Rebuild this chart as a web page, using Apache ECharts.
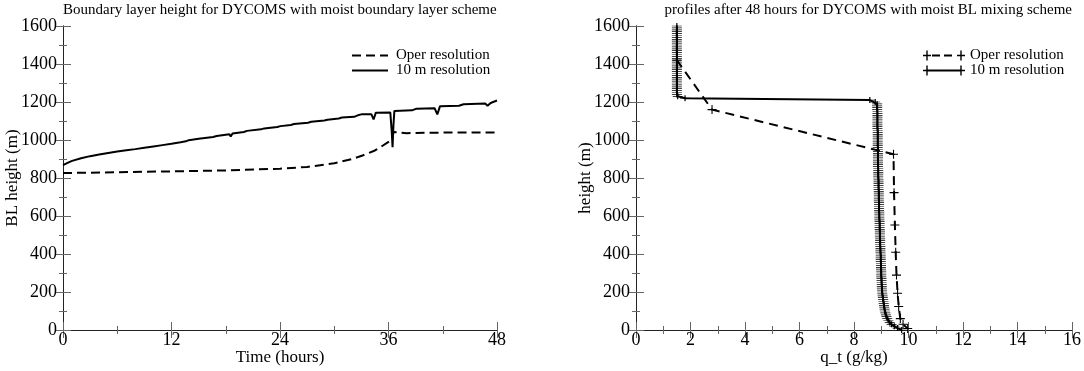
<!DOCTYPE html>
<html>
<head>
<meta charset="utf-8">
<script src="https://cdn.jsdelivr.net/npm/echarts@6/dist/echarts.min.js"></script>
<style>
  html, body { margin: 0; padding: 0; background: #fff; }
  #chart { width: 1084px; height: 371px; }
</style>
</head>
<body>
<div id="chart"></div>
<script>
// left panel: boundary layer height vs time
const blTitle = "Boundary layer height for DYCOMS with moist boundary layer scheme";
const operTime = [0, 6, 12, 18, 24, 27, 30, 32, 33.2, 34.5, 35.1, 36, 36.4, 36.55, 37, 38, 40, 44, 48];
const operBL = [826, 830, 835, 840, 849, 858, 878, 900, 920, 945, 962, 990, 1010, 1042, 1040, 1036, 1038, 1040, 1040];
const tenTime = [0, 0.5, 1, 2, 3, 4, 5, 6, 7, 8, 9, 10, 11, 12, 13, 13.6, 13.75, 13.9, 15, 16.6, 16.8, 17,
  18.4, 18.55, 18.75, 20, 20.15, 20.35, 21.9, 22.05, 22.25, 23.7, 23.85, 24.05, 25.2, 25.35, 25.55,
  27.1, 27.25, 27.45, 28.9, 29.05, 29.25, 30.5, 30.65, 30.85, 32.2, 32.4, 32.6, 33, 34.1, 34.35, 34.6,
  36.2, 36.35, 36.45, 36.55, 36.65, 38.6, 38.8, 39.1, 41.1, 41.4, 41.7, 43.8, 44, 44.3, 46.7, 46.95, 47.3, 48];
const tenBL = [868, 880, 890, 904, 915, 924, 932, 939, 946, 952, 959, 966, 973, 980, 988, 993, 984, 999, 1006, 1016, 1009, 1021,
  1030, 1019, 1034, 1042, 1033, 1048, 1056, 1047, 1061, 1068, 1061, 1073, 1079, 1071, 1084,
  1091, 1082, 1096, 1103, 1094, 1107, 1113, 1104, 1118, 1122, 1112, 1130, 1135, 1136, 1108, 1144,
  1145, 1050, 962, 1080, 1153, 1156, 1146, 1165, 1167, 1135, 1178, 1180, 1172, 1188, 1192, 1180, 1195, 1208];

// right panel: q_t profiles after 48 hours
const qtTitle = "profiles after 48 hours for DYCOMS with moist BL mixing scheme";
const operQt = [1.50, 1.50, 2.79, 9.45, 9.47, 9.50, 9.53, 9.56, 9.60, 9.64, 9.70, 9.80, 9.97];
const operHeight = [1660, 1420, 1160, 925, 723, 553, 409, 289, 193, 124, 60, 30, 8];
const tenHeight = [
  0, 10, 20, 30, 40, 50, 60, 70, 80, 90,
  100, 110, 120, 130, 140, 150, 160, 170, 180, 190,
  200, 210, 220, 230, 240, 250, 260, 270, 280, 290,
  300, 310, 320, 330, 340, 350, 360, 370, 380, 390,
  400, 410, 420, 430, 440, 450, 460, 470, 480, 490,
  500, 510, 520, 530, 540, 550, 560, 570, 580, 590,
  600, 610, 620, 630, 640, 650, 660, 670, 680, 690,
  700, 710, 720, 730, 740, 750, 760, 770, 780, 790,
  800, 810, 820, 830, 840, 850, 860, 870, 880, 890,
  900, 910, 920, 930, 940, 950, 960, 970, 980, 990,
  1000, 1010, 1020, 1030, 1040, 1050, 1060, 1070, 1080, 1090,
  1100, 1110, 1120, 1130, 1140, 1150, 1160, 1170, 1180, 1190,
  1200, 1210, 1220, 1230, 1240, 1250, 1260, 1270, 1280, 1290,
  1300, 1310, 1320, 1330, 1340, 1350, 1360, 1370, 1380, 1390,
  1400, 1410, 1420, 1430, 1440, 1450, 1460, 1470, 1480, 1490,
  1500, 1510, 1520, 1530, 1540, 1550, 1560, 1570, 1580, 1590,
  1600];
const tenQt = [
  9.75, 9.60, 9.48, 9.38, 9.31, 9.26, 9.22, 9.19, 9.17, 9.15,
  9.13, 9.12, 9.11, 9.10, 9.09, 9.08, 9.07, 9.06, 9.05, 9.04,
  9.03, 9.03, 9.02, 9.02, 9.02, 9.01, 9.01, 9.01, 9.00, 9.00,
  9.00, 9.00, 8.99, 8.99, 8.99, 8.99, 8.98, 8.98, 8.98, 8.98,
  8.98, 8.97, 8.97, 8.97, 8.97, 8.96, 8.96, 8.96, 8.96, 8.95,
  8.95, 8.95, 8.95, 8.94, 8.94, 8.94, 8.94, 8.94, 8.93, 8.93,
  8.93, 8.93, 8.93, 8.92, 8.92, 8.92, 8.92, 8.92, 8.91, 8.91,
  8.91, 8.91, 8.91, 8.91, 8.90, 8.90, 8.90, 8.90, 8.90, 8.90,
  8.89, 8.89, 8.89, 8.89, 8.89, 8.89, 8.88, 8.88, 8.88, 8.88,
  8.88, 8.88, 8.88, 8.88, 8.88, 8.88, 8.87, 8.87, 8.87, 8.87,
  8.87, 8.87, 8.87, 8.87, 8.87, 8.87, 8.86, 8.86, 8.86, 8.86,
  8.86, 8.86, 8.86, 8.86, 8.86, 8.86, 8.85, 8.85, 8.85, 8.85,
  8.78, 8.58, 1.80, 1.53, 1.50, 1.50, 1.50, 1.50, 1.50, 1.50,
  1.50, 1.50, 1.50, 1.50, 1.50, 1.50, 1.50, 1.50, 1.50, 1.50,
  1.50, 1.50, 1.50, 1.50, 1.50, 1.50, 1.50, 1.50, 1.50, 1.50,
  1.50, 1.50, 1.50, 1.50, 1.50, 1.50, 1.50, 1.50, 1.50, 1.50,
  1.50];

const font = "Liberation Serif";
const plus = "path://M0,4.4H10V5.6H0Z M4.4,0H5.6V10H4.4Z";
// legend samples
const dashIcon = "path://M0,0H9V2H0Z M14,0H23V2H14Z M28,0H36V2H28Z";
const lineIcon = "path://M0,0H36V2H0Z";
const operIcon = "path://M0,4.3H8V5.7H0Z M3.3,0H4.7V10H3.3Z M9,4H17V6H9Z M21,4H29V6H21Z M34,4.3H42V5.7H34Z M37.3,0H38.7V10H37.3Z";
const tenIcon = "path://M0,4.3H8V5.7H0Z M3.3,0H4.7V10H3.3Z M4,4H38V6H4Z M34,4.3H42V5.7H34Z M37.3,0H38.7V10H37.3Z";

const pairs = (xs, ys) => xs.map((x, i) => [x, ys[i]]);

const tickStyle = {
  axisLine: { show: true, lineStyle: { color: "#222", width: 1 } },
  axisTick: { show: true, inside: true, length: 8, lineStyle: { color: "#666" } },
  minorTick: { show: true, splitNumber: 2, length: 4, lineStyle: { color: "#666" } },
  splitLine: { show: false },
  minorSplitLine: { show: false }
};
const labelStyle = { fontFamily: font, fontSize: 18, color: "#000", formatter: v => String(v) };
const nameStyle = { fontFamily: font, fontSize: 17, color: "#000" };

// one frame = bottom/left labelled axes + mirrored top/right tick-only axes
const xAxisPair = (grid, max, interval, name) => {
  const base = Object.assign({ type: "value", gridIndex: grid, min: 0, max: max, interval: interval }, tickStyle);
  return [
    Object.assign({}, base, {
      position: "bottom", name: name, nameLocation: "middle", nameGap: 19, nameMoveOverlap: false,
      nameTextStyle: nameStyle,
      axisLabel: Object.assign({ margin: 1 }, labelStyle)
    }),
    Object.assign({}, base, { position: "top", axisLabel: { show: false } })
  ];
};
const yAxisPair = (grid, name) => {
  const base = Object.assign({ type: "value", gridIndex: grid, min: 0, max: 1600, interval: 200 }, tickStyle);
  return [
    Object.assign({}, base, {
      position: "left", name: name, nameLocation: "middle", nameGap: 42, nameMoveOverlap: false,
      nameTextStyle: nameStyle,
      axisLabel: Object.assign({ margin: 6 }, labelStyle)
    }),
    Object.assign({}, base, { position: "right", axisLabel: { show: false } })
  ];
};

const chart = echarts.init(document.getElementById("chart"));
chart.setOption({
  animation: false,
  backgroundColor: "#fff",
  textStyle: { fontFamily: font, color: "#000" },
  title: [
    { text: blTitle, left: 63, top: 3, padding: 0,
      textStyle: { fontFamily: font, fontSize: 15, fontWeight: "normal", color: "#000" } },
    { text: qtTitle, right: 12, top: 3, padding: 0,
      textStyle: { fontFamily: font, fontSize: 15, fontWeight: "normal", color: "#000" } }
  ],
  legend: [
    {
      left: 352, top: 48, orient: "vertical", itemGap: 0, padding: 0,
      itemWidth: 36, itemHeight: 2,
      textStyle: { fontFamily: font, fontSize: 15, color: "#000", lineHeight: 15, padding: [0, 0, 0, 3] },
      data: [
        { name: "Oper resolution", icon: dashIcon, itemStyle: { color: "#000" } },
        { name: "10 m resolution", icon: lineIcon, itemStyle: { color: "#000" } }
      ]
    },
    {
      left: 923, top: 48, orient: "vertical", itemGap: 0, padding: 0,
      itemWidth: 42, itemHeight: 10,
      textStyle: { fontFamily: font, fontSize: 15, color: "#000", lineHeight: 15 },
      data: [
        { name: "Oper resolution ", icon: operIcon, itemStyle: { color: "#000" } },
        { name: "10 m resolution ", icon: tenIcon, itemStyle: { color: "#000" } }
      ]
    }
  ],
  grid: [
    { left: 63, top: 26, width: 434, height: 304 },
    { left: 636, top: 26, width: 436, height: 304 }
  ],
  xAxis: [].concat(
    xAxisPair(0, 48, 12, "Time (hours)"),
    xAxisPair(1, 16, 2, "q_t (g/kg)")
  ),
  yAxis: [].concat(
    yAxisPair(0, "BL height (m)"),
    yAxisPair(1, "height (m)")
  ),
  series: [
    {
      name: "Oper resolution", type: "line", xAxisIndex: 0, yAxisIndex: 0,
      symbol: "none", data: pairs(operTime, operBL),
      itemStyle: { color: "#000" },
      lineStyle: { color: "#000", width: 2, type: [9, 5] }
    },
    {
      name: "10 m resolution", type: "line", xAxisIndex: 0, yAxisIndex: 0,
      symbol: "none", data: pairs(tenTime, tenBL),
      itemStyle: { color: "#000" },
      lineStyle: { color: "#000", width: 2 }
    },
    {
      name: "Oper resolution ", type: "line", xAxisIndex: 2, yAxisIndex: 2,
      symbol: plus, symbolSize: 9, showAllSymbol: true,
      data: pairs(operQt, operHeight),
      itemStyle: { color: "#000" },
      lineStyle: { color: "#000", width: 2, type: [9, 6] }
    },
    {
      name: "10 m resolution ", type: "line", xAxisIndex: 2, yAxisIndex: 2,
      symbol: plus, symbolSize: [10, 6], showAllSymbol: true,
      data: pairs(tenQt, tenHeight),
      itemStyle: { color: "#000" },
      lineStyle: { color: "#000", width: 2 }
    }
  ]
});
</script>
</body>
</html>
